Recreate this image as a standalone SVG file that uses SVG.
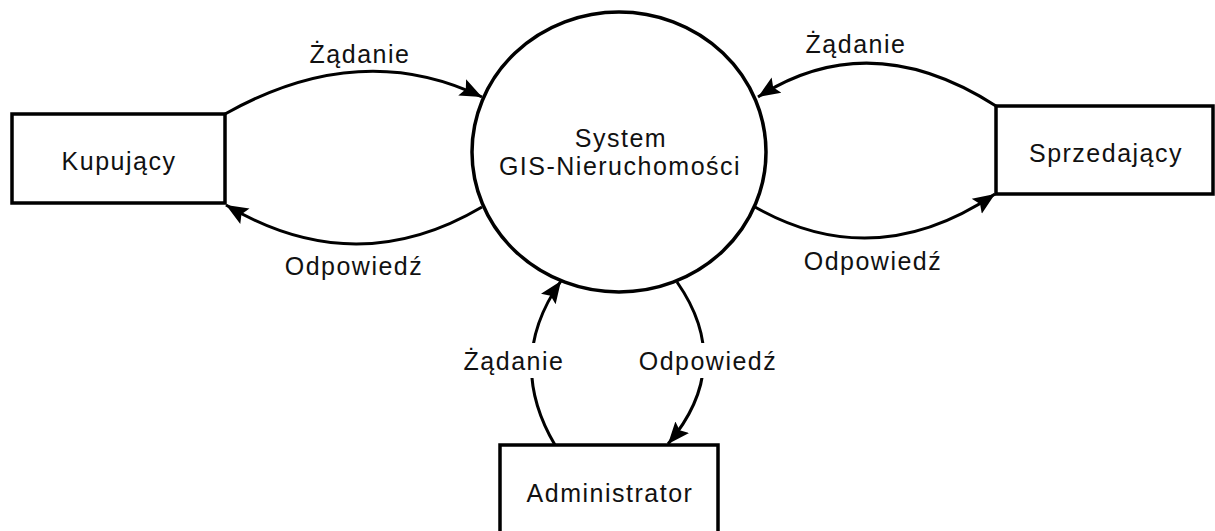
<svg xmlns="http://www.w3.org/2000/svg" width="1215" height="531" viewBox="0 0 1215 531">
<style>
.shape{fill:#fff;stroke:#000;stroke-width:3.5}
.conn{fill:none;stroke:#000;stroke-width:3}
.lbl{font-family:"Liberation Sans",Arial,sans-serif;font-size:25px;letter-spacing:1.5px;fill:#111;text-anchor:middle}
.bg{fill:#fff;stroke:none}
</style>
<defs>
<marker id="arr" markerUnits="userSpaceOnUse" markerWidth="24" markerHeight="20" refX="22" refY="10" orient="auto">
<path d="M0,1 L22,10 L0,19 L4,10 z" fill="#000"/>
</marker>
</defs>
<rect width="1215" height="531" fill="#fff"/>
<g id="connectors">
<path class="conn" d="M225,114 Q360,38 482,97" marker-end="url(#arr)"/>
<path class="conn" d="M482,207 Q355,282 226,205" marker-end="url(#arr)"/>
<path class="conn" d="M996,106 Q870,25 758,97" marker-end="url(#arr)"/>
<path class="conn" d="M755,207 Q875,275 995,194" marker-end="url(#arr)"/>
<path class="conn" d="M555,445 Q505,360 561,281" marker-end="url(#arr)"/>
<path class="conn" d="M677,282 Q735,365 668,444" marker-end="url(#arr)"/>
<rect class="bg" x="455" y="343" width="115" height="35"/>
<rect class="bg" x="633" y="343" width="150" height="35"/>
<text class="lbl" x="360" y="63">Żądanie</text>
<text class="lbl" x="354" y="275">Odpowiedź</text>
<text class="lbl" x="856" y="53">Żądanie</text>
<text class="lbl" x="873" y="270">Odpowiedź</text>
<text class="lbl" x="514" y="370">Żądanie</text>
<text class="lbl" x="708" y="370">Odpowiedź</text>
</g>
<g id="system">
<ellipse class="shape" cx="619" cy="152" rx="147" ry="140" stroke-width="3"/>
<text class="lbl" x="621" y="147">System</text>
<text class="lbl" x="620" y="175">GIS-Nieruchomości</text>
</g>
<g id="kupujacy">
<rect class="shape" x="12" y="114" width="213" height="89"/>
<text class="lbl" x="119" y="170">Kupujący</text>
</g>
<g id="sprzedajacy">
<rect class="shape" x="996" y="106" width="217" height="88"/>
<text class="lbl" x="1106" y="162">Sprzedający</text>
</g>
<g id="administrator">
<rect class="shape" x="500" y="445" width="218" height="100"/>
<text class="lbl" x="610" y="502">Administrator</text>
</g>
</svg>
